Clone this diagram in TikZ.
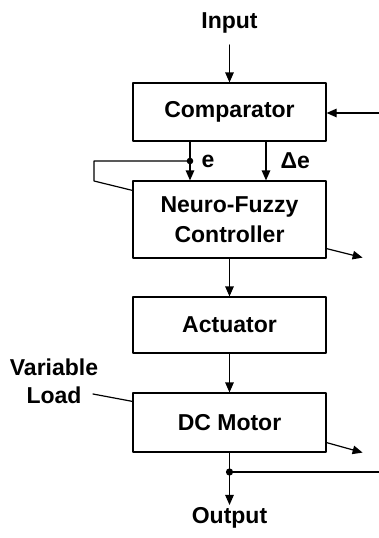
\documentclass[tikz,border=0pt]{standalone}
\usepackage{fontspec}
\setmainfont{Liberation Sans}
\usetikzlibrary{calc,arrows.meta}

\begin{document}
\begin{tikzpicture}[x=1pt, y=-1pt, >={Triangle[length=10pt,width=8.5pt]},
  line width=1.2pt, line cap=round, line join=round,
  font=\bfseries\fontsize{23}{30}\selectfont,
  block/.style={draw, minimum width=193pt, minimum height=58pt, inner sep=0pt, align=center},
  lbl/.style={inner sep=2pt}]

  \useasboundingbox (0,0) rectangle (379,538);

  % ===== ブロック =====
  \node[block] (comp) at (229.5,112) {Comparator};
  \node[block, minimum height=77pt] (nfc) at (229.5,219.5) {Neuro-Fuzzy\\Controller};
  \node[block, minimum height=56pt] (act) at (229.5,325) {Actuator};
  \node[block, minimum height=59pt] (motor) at (229.5,422.5) {DC Motor};

  % ===== 入出力 =====
  \node[lbl] (input) at (229.5,23) {Input};
  \node[lbl] (output) at (229.5,518) {Output};
  \node[lbl, align=center, font=\bfseries\fontsize{23}{28}\selectfont] (load) at (54,381) {Variable\\Load};

  % ===== 点 =====
  \coordinate (eDot) at (190,161);
  \coordinate (dE) at (266,161);
  \coordinate (loopL) at (94,161);
  \coordinate (outDot) at (229.5,472);
  \coordinate (fbIn) at (379,113);
  \coordinate (fbOut) at (379,472);
  \coordinate (loadTip) at (93,394);

  % ===== 信号線 =====
  \draw[->, shorten <=9pt] (input) -- (comp);
  \draw[->] (fbIn) -- (comp.east |- fbIn);
  \draw[->] (comp.south -| eDot) -- (nfc.north -| eDot);
  \draw[->] (comp.south -| dE) -- (nfc.north -| dE);
  \draw (eDot) -- (loopL) -- ++(0,20) -- ($(nfc.north west)+(0,10)$);
  \draw[->] (nfc) -- (act);
  \draw[->] (act) -- (motor);
  \draw[->] (motor) -- (output);
  \draw (outDot) -- (fbOut);
  \draw[->] ($(nfc.south east)+(0,-10)$) -- ++(36,9);
  \draw[->] ($(motor.south east)+(0,-10)$) -- ++(36,10);
  \draw (loadTip) -- ($(motor.north west)+(0,9)$);

  \fill (eDot) circle (3.3pt);
  \fill (outDot) circle (3.6pt);

  % ===== ラベル =====
  \node[lbl, right=9pt] (eLbl) at (eDot) {e};
  \node[lbl, right=12pt] (dELbl) at (dE) {Δe};

\end{tikzpicture}
\end{document}
